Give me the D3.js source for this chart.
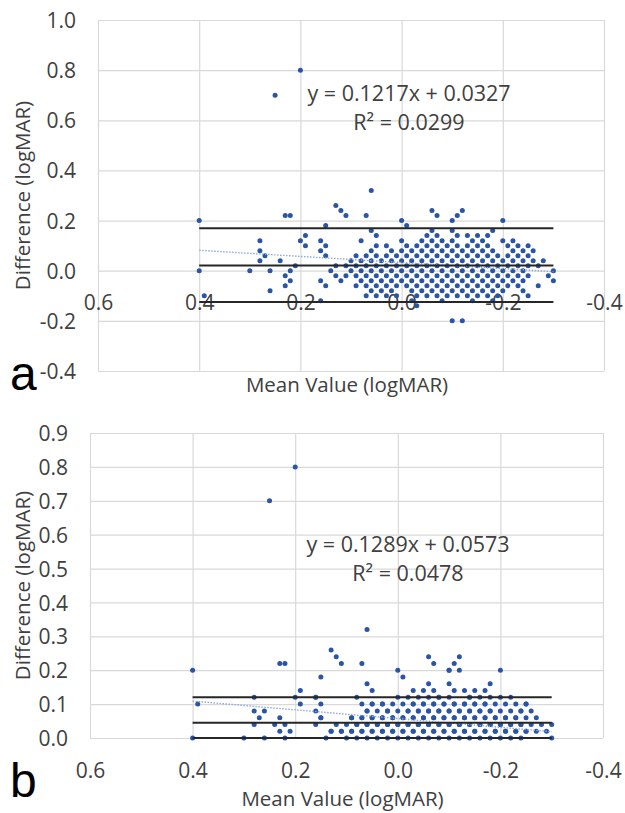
<!DOCTYPE html>
<html>
<head>
<meta charset="utf-8">
<script src="https://cdn.jsdelivr.net/npm/d3@7"></script>
<style>
  body { margin: 0; background: #fff; }
  svg { display: block; }
</style>
</head>
<body>
<svg id="chart" width="625" height="813"></svg>
<script>
// ---- data ----
// difference rows (logMAR) and, for each row, the mean values in hundredths
const rowDiff = [0.80, 0.70, 0.32, 0.26, 0.24, 0.22, 0.20, 0.18, 0.16, 0.14, 0.12, 0.10, 0.08,
  0.06, 0.04, 0.02, 0.00, -0.02, -0.04, -0.06, -0.08, -0.10, -0.12, -0.14, -0.20];
const rowMeans = [
  [20],
  [25],
  [6],
  [13],
  [12, -6, -12],
  [23, 22, 11, 7, -7, -11],
  [40, 0, -10, -20],
  [15, -1],
  [6, -6, -10, -18],
  [19, 5, -5, -7, -11, -13, -15, -17],
  [28, 20, 16, 8, 0, -4, -6, -8, -10, -14, -16, -20, -22],
  [19, 15, 5, 3, -1, -3, -5, -7, -9, -11, -13, -15, -17, -21, -23, -25],
  [28, 16, 6, 2, 0, -2, -4, -6, -8, -10, -12, -14, -16, -18, -22, -24, -26],
  [27, 15, 9, 7, 5, 3, 1, -1, -3, -5, -7, -9, -11, -13, -15, -17, -19, -21, -23, -25],
  [28, 24, 10, 8, 6, 4, 2, 0, -2, -4, -6, -8, -10, -12, -14, -16, -18, -20, -22, -24, -26, -28],
  [21, 13, 11, 9, 7, 5, 3, 1, -1, -3, -5, -7, -9, -11, -13, -15, -17, -19, -21, -23, -25, -27],
  [40, 30, 26, 22, 14, 10, 8, 6, 4, 2, 0, -2, -4, -6, -8, -10, -12, -14, -16, -18, -20, -22, -24, -30],
  [23, 13, 11, 9, 7, 5, 3, 1, -1, -3, -5, -7, -9, -11, -13, -15, -17, -19, -21, -23, -25, -29],
  [22, 16, 12, 8, 6, 4, 2, 0, -2, -4, -6, -8, -10, -12, -14, -16, -18, -20, -22, -24, -30],
  [23, 15, 9, 7, 5, 3, 1, -1, -3, -5, -7, -9, -11, -13, -15, -17, -19, -21, -23, -27],
  [26, 6, 4, 2, -2, -4, -6, -8, -10, -12, -14, -16, -18, -20, -24],
  [39, 7, 5, 3, 1, -3, -5, -7, -9, -11, -13, -15, -17, -19, -25],
  [16, -2, -8, -14, -18],
  [-3],
  [-10, -12]
];

const xTicks = [0.6, 0.4, 0.2, 0.0, -0.2, -0.4];
const yTicksA = [-0.4, -0.2, 0.0, 0.2, 0.4, 0.6, 0.8, 1.0];
const yTicksB = [0.0, 0.1, 0.2, 0.3, 0.4, 0.5, 0.6, 0.7, 0.8, 0.9];

// bias and limits of agreement (upper, mean, lower)
const limitsA = [0.169, 0.021, -0.125];
const limitsB = [0.12, 0.045, 0.0];
const lineSpan = [0.4, -0.3];

// linear trend [slope, intercept]
const fitA = [0.1217, 0.0327];
const fitB = [0.1289, 0.0573];
const r2A = "0.0299";
const r2B = "0.0478";

const pointsA = [];
rowDiff.forEach((d, i) => rowMeans[i].forEach(v => pointsA.push([v / 100, d])));
// panel b shows the absolute differences
const pointsB = pointsA.map(p => [p[0], Math.abs(p[1])]);

const svg = d3.select("#chart");
const FONT = "'Open Sans', sans-serif";
const fmt = v => v.toFixed(1);

function drawPanel(o) {
  const x = d3.scaleLinear().domain([0.6, -0.4]).range([o.left, o.right]);
  const y = d3.scaleLinear().domain(o.yDomain).range([o.bottom, o.top]);
  const g = svg.append("g");

  // gridlines
  g.append("g")
    .attr("transform", `translate(0,${o.bottom})`)
    .call(d3.axisBottom(x).tickValues(xTicks).tickSize(-(o.bottom - o.top)).tickFormat(""))
    .call(a => a.select(".domain").remove())
    .call(a => a.selectAll("line").attr("stroke", "#d9d9d9").attr("stroke-width", 1.2));
  g.append("g")
    .attr("transform", `translate(${o.left},0)`)
    .call(d3.axisLeft(y).tickValues(o.yTicks).tickSize(-(o.right - o.left)).tickFormat(""))
    .call(a => a.select(".domain").remove())
    .call(a => a.selectAll("line").attr("stroke", "#d9d9d9").attr("stroke-width", 1.2));

  // tick labels
  g.append("g")
    .attr("transform", `translate(${o.left - 22},0)`)
    .call(d3.axisLeft(y).tickValues(o.yTicks).tickSize(0).tickPadding(0).tickFormat(fmt))
    .call(a => a.select(".domain").remove())
    .call(a => a.selectAll("text")
      .attr("font-family", FONT).attr("font-size", 21).attr("fill", "#404040")
      .attr("dy", "0.36em"));
  g.append("g")
    .attr("transform", `translate(0,${o.xLabelY})`)
    .call(d3.axisBottom(x).tickValues(xTicks).tickSize(0).tickPadding(0).tickFormat(fmt))
    .call(a => a.select(".domain").remove())
    .call(a => a.selectAll("text")
      .attr("font-family", FONT).attr("font-size", 21).attr("fill", "#404040")
      .attr("y", 0).attr("dy", 0));

  // points
  g.append("g").selectAll("circle")
    .data(o.points)
    .join("circle")
    .attr("cx", d => x(d[0]))
    .attr("cy", d => y(d[1]))
    .attr("r", 2.5)
    .attr("fill", "#2a55a6");

  // trend line
  g.append("line")
    .attr("x1", x(lineSpan[0])).attr("x2", x(lineSpan[1]))
    .attr("y1", y(o.fit[0] * lineSpan[0] + o.fit[1]))
    .attr("y2", y(o.fit[0] * lineSpan[1] + o.fit[1]))
    .attr("stroke", "#8eaadb").attr("stroke-width", 1.4)
    .attr("stroke-dasharray", "1.5,1.5");

  // bias and limits
  g.append("g").selectAll("line")
    .data(o.limits)
    .join("line")
    .attr("x1", x(lineSpan[0])).attr("x2", x(lineSpan[1]))
    .attr("y1", d => y(d)).attr("y2", d => y(d))
    .attr("stroke", "#262626").attr("stroke-width", 2);

  // equation
  const eq = g.append("g")
    .attr("font-family", FONT).attr("font-size", 21.5).attr("fill", "#404040")
    .attr("text-anchor", "middle");
  eq.append("text").attr("x", o.eqX).attr("y", o.eqY)
    .text(`y = ${o.fit[0]}x + ${o.fit[1]}`);
  eq.append("text").attr("x", o.eqX).attr("y", o.eqY + 29)
    .text(`R² = ${o.r2}`);

  // axis titles
  g.append("text")
    .attr("x", (o.left + o.right) / 2 - 4).attr("y", o.xTitleY)
    .attr("text-anchor", "middle")
    .attr("font-family", FONT).attr("font-size", 20.5).attr("fill", "#404040")
    .text("Mean Value (logMAR)");
  g.append("text")
    .attr("transform", `translate(30,${(o.top + o.bottom) / 2}) rotate(-90)`)
    .attr("text-anchor", "middle")
    .attr("font-family", FONT).attr("font-size", 20.5).attr("fill", "#404040")
    .text("Difference (logMAR)");

  // panel letter
  g.append("text")
    .attr("x", 10).attr("y", o.letterY)
    .attr("font-family", "'Liberation Sans', Arial, sans-serif").attr("font-size", 48)
    .attr("fill", "#000")
    .text(o.letter);
}

drawPanel({
  left: 98, right: 604, top: 20, bottom: 371,
  yDomain: [-0.4, 1.0], yTicks: yTicksA,
  points: pointsA, limits: limitsA, fit: fitA, r2: r2A,
  xLabelY: 310, xTitleY: 392, eqX: 409, eqY: 101,
  letter: "a", letterY: 390
});

drawPanel({
  left: 90, right: 603, top: 433, bottom: 738,
  yDomain: [0, 0.9], yTicks: yTicksB,
  points: pointsB, limits: limitsB, fit: fitB, r2: r2B,
  xLabelY: 778, xTitleY: 806, eqX: 408, eqY: 552,
  letter: "b", letterY: 797
});
</script>
</body>
</html>
